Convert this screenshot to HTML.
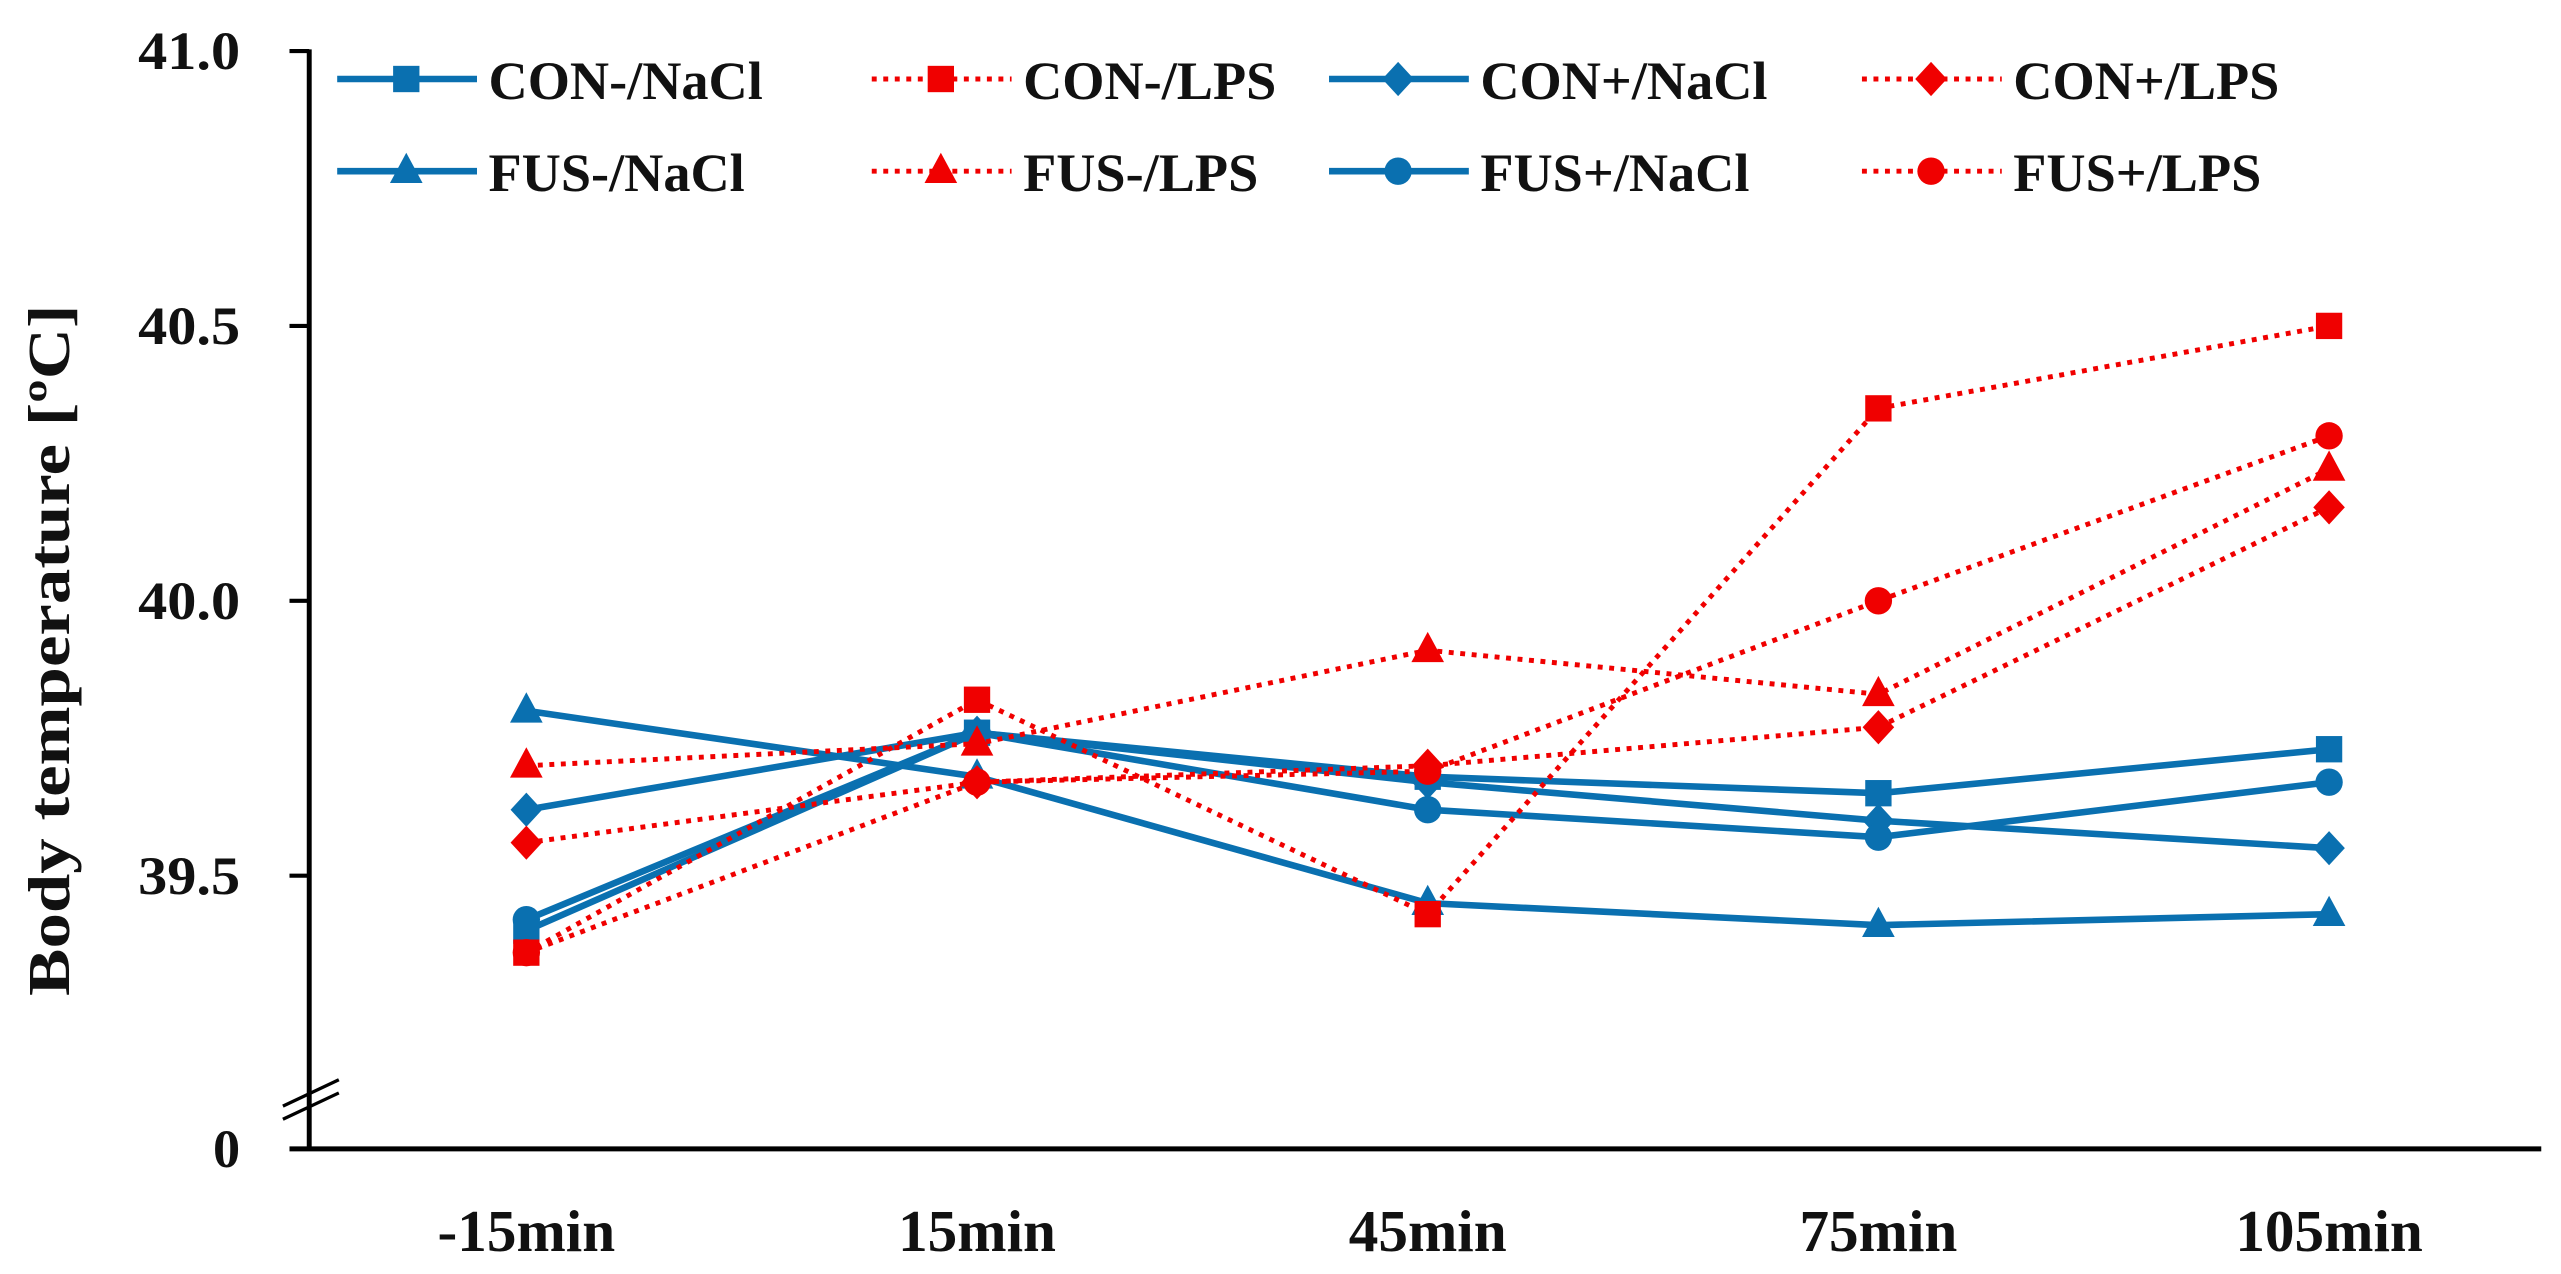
<!DOCTYPE html>
<html><head><meta charset="utf-8"><style>
html,body{margin:0;padding:0;background:#fff;}
svg{display:block;}
text{font-family:"Liberation Serif",serif;font-weight:bold;fill:#111;}
</style></head><body>
<svg id="chart" width="2561" height="1274" viewBox="0 0 1557 774" preserveAspectRatio="none" xmlns="http://www.w3.org/2000/svg">
<g id="axes"></g>
<g id="series"></g>
<g id="legend"></g>
</svg>
<script>
const categories = ["-15min","15min","45min","75min","105min"];
const yTicks = [39.5, 40.0, 40.5, 41.0];
const yTickLabels = ["39.5","40.0","40.5","41.0"];
const seriesNames = ["CON-/NaCl","CON-/LPS","CON+/NaCl","CON+/LPS","FUS-/NaCl","FUS-/LPS","FUS+/NaCl","FUS+/LPS"];
const conMinusNaCl = [39.40, 39.76, 39.68, 39.65, 39.73];
const conMinusLPS  = [39.36, 39.82, 39.43, 40.35, 40.50];
const conPlusNaCl  = [39.62, 39.76, 39.67, 39.60, 39.55];
const conPlusLPS   = [39.56, 39.67, 39.70, 39.77, 40.17];
const fusMinusNaCl = [39.80, 39.68, 39.45, 39.41, 39.43];
const fusMinusLPS  = [39.70, 39.74, 39.91, 39.83, 40.24];
const fusPlusNaCl  = [39.42, 39.76, 39.62, 39.57, 39.67];
const fusPlusLPS   = [39.36, 39.67, 39.69, 40.00, 40.30];

const NS="http://www.w3.org/2000/svg";
function el(tag, attrs, parent){const e=document.createElementNS(NS,tag);for(const k in attrs)e.setAttribute(k,attrs[k]);parent.appendChild(e);return e;}
const xScale = i => 320 + i*274;
const yScale = v => 365 - (v-40.0)*334;
const axes=document.getElementById('axes');
let a=el('line',{x1:188,y1:30,x2:188,y2:698,stroke:'#000','stroke-width':3},axes);


a=el('line',{x1:176,y1:698,x2:1545,y2:698,stroke:'#000','stroke-width':3},axes);


a=el('line',{x1:172,y1:672,x2:206,y2:656,stroke:'#000','stroke-width':2},axes);


a=el('line',{x1:172,y1:680,x2:206,y2:664,stroke:'#000','stroke-width':2},axes);


yTicks.forEach((v,i)=>{
  const y=yScale(v);
  const t=el('line',{x1:176,y1:y,x2:188,y2:y,stroke:'#000','stroke-width':2.5},axes);
  
  
  const l=el('text',{x:146,y:y+11,'text-anchor':'end','font-size':33,textLength:62,lengthAdjust:'spacingAndGlyphs'},axes);
  l.textContent=yTickLabels[i];
  
  
});
let z=el('text',{x:146,y:709,'text-anchor':'end','font-size':33},axes);
z.textContent='0';


categories.forEach((c,i)=>{
  const l=el('text',{x:xScale(i),y:760,'text-anchor':'middle','font-size':36},axes);
  l.textContent=c;
  
  
});
let yt=el('text',{x:0,y:0,'text-anchor':'middle','font-size':36,textLength:420,lengthAdjust:'spacingAndGlyphs',transform:'translate(42,395) rotate(-90)'},axes);
yt.textContent='Body temperature [\u00BAC]';



const BLUE='#0a70b0', RED='#f00000';
function marker(g,shape,x,y,color,s){
  let m;
  if(shape==='square') m=el('rect',{x:x-s*0.5,y:y-s*0.5,width:s,height:s,fill:color},g);
  else if(shape==='diamond') m=el('polygon',{points:`${x},${y-s*0.65} ${x+s*0.6},${y} ${x},${y+s*0.65} ${x-s*0.6},${y}`,fill:color},g);
  else if(shape==='triangle') m=el('polygon',{points:`${x},${y-s*0.7} ${x+s*0.62},${y+s*0.45} ${x-s*0.62},${y+s*0.45}`,fill:color},g);
  else m=el('circle',{cx:x,cy:y,r:s*0.52,fill:color},g);
  return m;
}
const defs=[
 {d:conMinusNaCl,c:BLUE,s:'square',dash:false},
 {d:conMinusLPS,c:RED,s:'square',dash:true},
 {d:conPlusNaCl,c:BLUE,s:'diamond',dash:false},
 {d:conPlusLPS,c:RED,s:'diamond',dash:true},
 {d:fusMinusNaCl,c:BLUE,s:'triangle',dash:false},
 {d:fusMinusLPS,c:RED,s:'triangle',dash:true},
 {d:fusPlusNaCl,c:BLUE,s:'circle',dash:false},
 {d:fusPlusLPS,c:RED,s:'circle',dash:true}
];
const sg=document.getElementById('series');
const order=[0,2,4,6,1,3,5,7];
order.forEach(k=>{
  const sd=defs[k];
  const g=el('g',{},sg);
  
  
  const pts=sd.d.map((v,i)=>xScale(i)+','+yScale(v)).join(' ');
  const ln=el('polyline',{points:pts,fill:'none',stroke:sd.c,'stroke-width':sd.dash?3:4,'stroke-dasharray':sd.dash?'3 4':'none'},g);
  
  
  sd.d.forEach((v,i)=>{
    const m=marker(g,sd.s,xScale(i),yScale(v),sd.c,16);
    
    
  });
});
const lg=document.getElementById('legend');
const colX=[205,530,808,1132];
const rowY=[48,104];
const legendLayout=[[0,0],[1,0],[2,0],[3,0],[0,1],[1,1],[2,1],[3,1]];
const legendSeries=[0,1,2,3,4,5,6,7];
legendSeries.forEach((k,j)=>{
  const sd=defs[k];
  const [c,r]=legendLayout[j];
  const x=colX[c], y=rowY[r];
  const g=el('g',{},lg);
  
  
  el('line',{x1:x,y1:y,x2:x+85,y2:y,stroke:sd.c,'stroke-width':sd.dash?3:4,'stroke-dasharray':sd.dash?'3 4':'none'},g);
  marker(g,sd.s,x+42,y,sd.c,16);
  const t=el('text',{x:x+92,y:y+12,'font-size':33},g);
  t.textContent=seriesNames[k];
});
</script>
</body></html>
